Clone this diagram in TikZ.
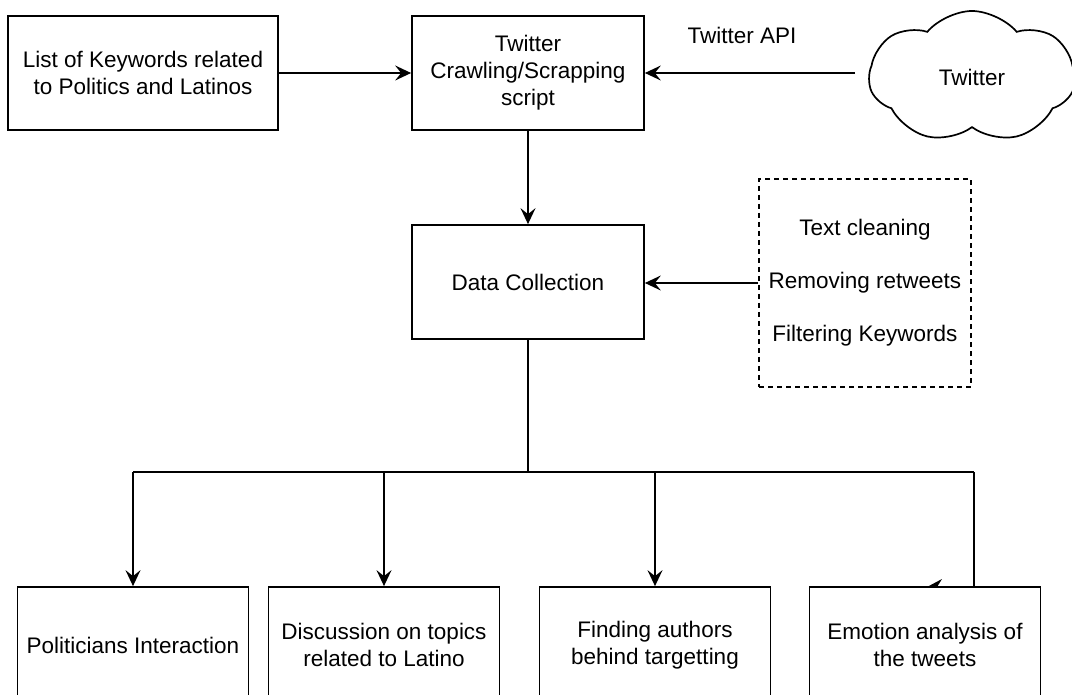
\documentclass[tikz,border=0pt]{standalone}
\usepackage{fontspec}
\setmainfont{Liberation Sans}
\usetikzlibrary{arrows.meta,shapes.symbols}
\begin{document}
\begin{tikzpicture}[x=1pt,y=-1pt,
  every node/.style={font=\fontsize{22.5}{27}\selectfont, inner sep=0pt},
  procbox/.style={draw, line width=1.7pt, align=center, minimum height=114pt},
  botbox/.style={draw, line width=1.7pt, align=center, minimum height=116pt, minimum width=231pt},
  dashbox/.style={draw, dashed, dash pattern=on 5pt off 4pt, line width=1.7pt, align=center, minimum width=212pt, minimum height=208pt},
  conn/.style={line width=1.7pt, -{Stealth[length=16pt,width=15pt,inset=6pt]}},
  plain/.style={line width=1.7pt}]
\useasboundingbox (0,0) rectangle (1072,695);
\clip (0,0) rectangle (1072,695);
\node[procbox, minimum width=270pt] (kw) at (143,73) {List of Keywords related\\to Politics and Latinos};
\node[procbox, minimum width=232pt] (crawl) at (528,73) {Twitter\\Crawling/Scrapping\\script};
\node[cloud, draw, line width=1.7pt, cloud puffs=7, cloud puff arc=100, aspect=1.6, minimum width=206pt, minimum height=132pt] (cloud) at (972,77) {Twitter};
\node (api) at (742,35) {Twitter API};
\node[procbox, minimum width=232pt] (data) at (528,282) {Data Collection};
\node[dashbox] (clean) at (865,283) {Text cleaning\\[26pt]Removing retweets\\[26pt]Filtering Keywords};
\node[botbox] (pol) at (133,645) {Politicians Interaction};
\node[botbox] (disc) at (384,645) {Discussion on topics\\related to Latino};
\node[botbox] (find) at (655,645) {Finding authors\\behind targetting};
\node[botbox] (emo) at (925,645) {Emotion analysis of\\the tweets};
\coordinate (apiend) at (855,73);
\coordinate (bus) at (528,472);
\coordinate (busL) at (133,472);
\coordinate (busR) at (974,472);
\draw[conn] (kw.east |- crawl.west) -- (crawl.west);
\draw[conn] (apiend) -- (crawl.east);
\draw[conn] (crawl.south) -- (data.north);
\draw[conn] (clean.west) -- (clean.west -| data.east);
\draw[plain] (data.south) -- (bus);
\draw[plain] (busL) -- (busR);
\draw[conn] (busL) -- (pol.north);
\draw[conn] (busL -| disc.north) -- (disc.north);
\draw[conn] (busL -| find.north) -- (find.north);
\draw[plain] (busR) -- (busR |- emo.north);
\fill (927,587) -- (942,579) -- (937,587) -- cycle;
\end{tikzpicture}
\end{document}
